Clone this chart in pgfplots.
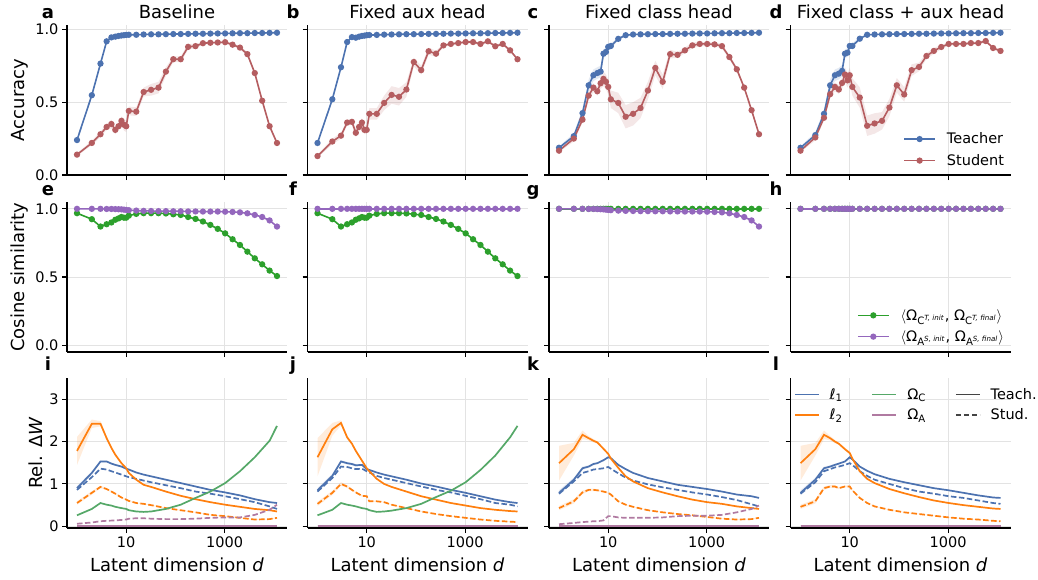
\documentclass[border=0pt]{standalone}
\usepackage{fontspec}
\setmainfont{DejaVu Sans}
\usepackage{pgfplots}
\pgfplotsset{compat=1.18}
\usepackage{pgfplotstable}
\usepgfplotslibrary{fillbetween}

\definecolor{tblue}{HTML}{4C72B0}
\definecolor{tred}{HTML}{B55D60}
\definecolor{cgreen}{HTML}{2CA02C}
\definecolor{cpurple}{HTML}{9467BD}
\definecolor{borange}{HTML}{FF7F0E}
\definecolor{bgreen}{HTML}{55A868}
\definecolor{bmauve}{HTML}{B07AA1}
\definecolor{gridc}{HTML}{E3E3E3}
\definecolor{dgray}{HTML}{444444}

\newcommand{\ticksize}{\fontsize{14.5}{17}\selectfont}
\newcommand{\labsize}{\fontsize{18}{21}\selectfont}
\newcommand{\legsize}{\fontsize{14.5}{17}\selectfont}

% top row: teacher / student accuracy (mean and spread)
\pgfplotstableread{
d T Te S Se
1 0.240 0.010 0.140 0.010
2 0.548 0.010 0.220 0.015
3 0.765 0.010 0.280 0.020
4 0.918 0.005 0.330 0.020
5 0.945 0.005 0.350 0.030
6 0.950 0.005 0.310 0.030
7 0.955 0.005 0.335 0.030
8 0.958 0.005 0.372 0.030
9 0.960 0.005 0.345 0.040
10 0.962 0.004 0.335 0.040
11.3 0.963 0.004 0.440 0.030
16 0.963 0.004 0.435 0.030
22.6 0.965 0.003 0.570 0.030
32 0.966 0.003 0.585 0.040
45.3 0.966 0.003 0.600 0.040
64 0.967 0.003 0.710 0.030
90.5 0.968 0.003 0.795 0.020
128 0.968 0.003 0.795 0.020
181 0.969 0.003 0.880 0.020
256 0.970 0.003 0.885 0.015
362 0.970 0.003 0.905 0.010
512 0.971 0.003 0.908 0.010
724 0.972 0.003 0.910 0.010
1024 0.972 0.003 0.912 0.010
1448 0.973 0.003 0.895 0.010
2048 0.974 0.003 0.875 0.010
2896 0.974 0.003 0.830 0.015
4096 0.975 0.003 0.700 0.015
5793 0.975 0.003 0.510 0.015
8192 0.976 0.003 0.335 0.015
11585 0.977 0.003 0.220 0.010
}\tabA
\pgfplotstableread{
d T Te S Se
1 0.220 0.010 0.130 0.010
2 0.520 0.015 0.230 0.020
3 0.740 0.010 0.270 0.020
4 0.913 0.005 0.360 0.020
5 0.947 0.005 0.365 0.020
6 0.943 0.005 0.290 0.030
7 0.950 0.005 0.330 0.030
8 0.955 0.005 0.360 0.030
9 0.957 0.004 0.310 0.030
10 0.960 0.004 0.310 0.030
11.3 0.961 0.004 0.420 0.040
16 0.962 0.004 0.420 0.040
22.6 0.964 0.003 0.495 0.050
32 0.965 0.003 0.550 0.060
45.3 0.966 0.003 0.537 0.060
64 0.967 0.003 0.587 0.050
90.5 0.967 0.003 0.776 0.030
128 0.968 0.003 0.720 0.030
181 0.969 0.003 0.850 0.025
256 0.969 0.003 0.833 0.020
362 0.970 0.003 0.890 0.010
512 0.971 0.003 0.900 0.010
724 0.971 0.003 0.906 0.010
1024 0.972 0.003 0.913 0.010
1448 0.973 0.003 0.913 0.010
2048 0.973 0.003 0.900 0.010
2896 0.974 0.003 0.918 0.010
4096 0.975 0.003 0.884 0.010
5793 0.975 0.003 0.900 0.010
8192 0.976 0.003 0.856 0.010
11585 0.977 0.003 0.795 0.010
}\tabB
\pgfplotstableread{
d T Te S Se
1 0.187 0.010 0.167 0.010
2 0.267 0.020 0.250 0.020
3 0.425 0.030 0.380 0.020
4 0.616 0.040 0.545 0.030
5 0.685 0.040 0.600 0.030
6 0.700 0.040 0.575 0.030
7 0.710 0.040 0.630 0.040
8 0.833 0.030 0.660 0.050
9 0.845 0.030 0.640 0.050
10 0.880 0.020 0.605 0.050
11.3 0.886 0.020 0.520 0.060
16 0.935 0.010 0.495 0.070
22.6 0.960 0.005 0.400 0.080
32 0.965 0.004 0.420 0.080
45.3 0.966 0.003 0.460 0.070
64 0.967 0.003 0.580 0.060
90.5 0.968 0.003 0.735 0.050
128 0.968 0.003 0.640 0.050
181 0.969 0.003 0.830 0.030
256 0.970 0.003 0.825 0.020
362 0.970 0.003 0.856 0.020
512 0.971 0.003 0.890 0.020
724 0.972 0.003 0.900 0.015
1024 0.972 0.003 0.900 0.015
1448 0.973 0.003 0.897 0.015
2048 0.974 0.003 0.885 0.015
2896 0.974 0.003 0.810 0.015
4096 0.975 0.003 0.726 0.015
5793 0.975 0.003 0.600 0.010
8192 0.976 0.003 0.445 0.010
11585 0.977 0.003 0.280 0.010
}\tabC
\pgfplotstableread{
d T Te S Se
1 0.187 0.010 0.167 0.010
2 0.274 0.020 0.258 0.020
3 0.420 0.030 0.393 0.020
4 0.616 0.040 0.555 0.030
5 0.685 0.040 0.605 0.030
6 0.696 0.040 0.587 0.030
7 0.715 0.040 0.632 0.040
8 0.833 0.030 0.690 0.050
9 0.840 0.030 0.650 0.050
10 0.886 0.020 0.685 0.050
11.3 0.886 0.020 0.605 0.060
16 0.936 0.010 0.532 0.070
22.6 0.963 0.005 0.338 0.070
32 0.965 0.004 0.354 0.070
45.3 0.966 0.003 0.372 0.060
64 0.967 0.003 0.463 0.060
90.5 0.968 0.003 0.616 0.050
128 0.968 0.003 0.553 0.050
181 0.969 0.003 0.720 0.040
256 0.970 0.003 0.742 0.030
362 0.970 0.003 0.817 0.020
512 0.971 0.003 0.852 0.020
724 0.972 0.003 0.879 0.015
1024 0.972 0.003 0.900 0.010
1448 0.973 0.003 0.900 0.010
2048 0.974 0.003 0.900 0.010
2896 0.974 0.003 0.906 0.010
4096 0.975 0.003 0.906 0.010
5793 0.975 0.003 0.920 0.010
8192 0.976 0.003 0.872 0.010
11585 0.977 0.003 0.852 0.010
}\tabD

% middle row: cosine similarities (GE/PE = drifting curves, one = unchanged)
\pgfplotstableread{
d GE PE one
1 0.968 1.000 1
2 0.924 1.000 1
3 0.870 1.000 1
4 0.887 0.999 1
5 0.900 0.999 1
6 0.920 0.998 1
7 0.930 0.997 1
8 0.940 0.996 1
9 0.935 0.994 1
10 0.935 0.992 1
11.3 0.950 0.990 1
16 0.963 0.987 1
22.6 0.968 0.985 1
32 0.968 0.984 1
45.3 0.968 0.983 1
64 0.966 0.983 1
90.5 0.960 0.982 1
128 0.955 0.982 1
181 0.940 0.981 1
256 0.926 0.981 1
362 0.907 0.980 1
512 0.882 0.980 1
724 0.853 0.980 1
1024 0.820 0.979 1
1448 0.777 0.977 1
2048 0.735 0.974 1
2896 0.686 0.967 1
4096 0.637 0.955 1
5793 0.593 0.940 1
8192 0.547 0.915 1
11585 0.507 0.870 1
}\tabMid

% bottom row: relative weight change
\pgfplotstableread{
d l1T e1 l1S l2T e2 l2S es oC oA
1 0.90 0.05 0.86 1.78 0.33 0.55 0.04 0.26 0.06
2 1.26 0.04 1.16 2.42 0.10 0.79 0.04 0.41 0.09
3 1.53 0.02 1.36 2.42 0.06 0.93 0.03 0.55 0.12
4 1.53 0.02 1.34 2.08 0.04 0.88 0.02 0.51 0.13
5 1.48 0.02 1.30 1.85 0.03 0.82 0.02 0.49 0.135
6 1.45 0.02 1.27 1.69 0.03 0.77 0.02 0.46 0.14
8 1.41 0.02 1.22 1.49 0.02 0.68 0.02 0.43 0.15
10 1.36 0.02 1.18 1.37 0.02 0.63 0.02 0.41 0.16
11.3 1.34 0.02 1.16 1.26 0.02 0.60 0.02 0.38 0.18
16 1.27 0.01 1.12 1.10 0.01 0.55 0.01 0.35 0.19
22.6 1.22 0.01 1.08 0.98 0.01 0.53 0.01 0.34 0.19
32 1.18 0.01 1.04 0.93 0.01 0.50 0.01 0.35 0.18
64 1.10 0.01 0.97 0.82 0.01 0.43 0.01 0.41 0.17
128 1.02 0.01 0.90 0.72 0.01 0.38 0.01 0.51 0.17
256 0.94 0.01 0.82 0.64 0.01 0.33 0.01 0.67 0.18
512 0.86 0.01 0.77 0.57 0.01 0.27 0.01 0.82 0.20
1024 0.80 0.01 0.71 0.51 0.01 0.24 0.01 1.02 0.21
2048 0.73 0.01 0.64 0.46 0.01 0.20 0.01 1.30 0.21
4096 0.64 0.01 0.57 0.41 0.01 0.16 0.01 1.63 0.27
8192 0.57 0.01 0.47 0.38 0.01 0.17 0.01 2.02 0.39
11585 0.55 0.01 0.41 0.35 0.01 0.20 0.01 2.37 0.51
}\tabI
\pgfplotstableread{
d l1T e1 l1S l2T e2 l2S es oC oA
1 0.85 0.05 0.82 1.63 0.45 0.53 0.05 0.26 0
2 1.19 0.05 1.14 2.29 0.15 0.79 0.05 0.39 0
3 1.53 0.03 1.41 2.44 0.06 1.00 0.04 0.55 0
4 1.49 0.03 1.40 2.10 0.04 0.94 0.03 0.51 0
5 1.47 0.03 1.37 1.95 0.03 0.86 0.02 0.49 0
6 1.44 0.03 1.35 1.78 0.03 0.80 0.02 0.47 0
8 1.45 0.02 1.36 1.55 0.02 0.72 0.02 0.43 0
10 1.35 0.02 1.30 1.37 0.02 0.71 0.02 0.41 0
11.3 1.33 0.02 1.27 1.30 0.02 0.59 0.02 0.38 0
16 1.27 0.01 1.19 1.12 0.01 0.59 0.01 0.34 0
22.6 1.22 0.01 1.14 1.00 0.01 0.57 0.01 0.35 0
32 1.18 0.01 1.10 0.93 0.01 0.51 0.01 0.37 0
64 1.10 0.01 1.02 0.82 0.01 0.43 0.01 0.43 0
128 1.01 0.01 0.94 0.71 0.01 0.35 0.01 0.53 0
256 0.94 0.01 0.86 0.63 0.01 0.29 0.01 0.69 0
512 0.86 0.01 0.80 0.55 0.01 0.24 0.01 0.84 0
1024 0.79 0.01 0.72 0.49 0.01 0.20 0.01 1.04 0
2048 0.71 0.01 0.64 0.43 0.01 0.16 0.01 1.33 0
4096 0.63 0.01 0.55 0.39 0.01 0.13 0.01 1.67 0
8192 0.57 0.01 0.51 0.36 0.01 0.11 0.01 2.10 0
11585 0.55 0.01 0.47 0.35 0.01 0.10 0.01 2.37 0
}\tabJ
\pgfplotstableread{
d l1T e1 l1S l2T e2 l2S es oC oA
1 0.79 0.06 0.77 1.49 0.41 0.43 0.05 0 0.05
2 1.10 0.05 1.06 1.82 0.15 0.59 0.05 0 0.08
3 1.37 0.04 1.26 2.16 0.10 0.80 0.04 0 0.10
4 1.41 0.03 1.30 2.08 0.05 0.86 0.03 0 0.11
5 1.47 0.03 1.34 2.02 0.04 0.86 0.03 0 0.12
6 1.49 0.02 1.35 1.98 0.03 0.85 0.02 0 0.12
8 1.56 0.02 1.37 1.83 0.03 0.82 0.02 0 0.14
10 1.63 0.02 1.40 1.71 0.03 0.79 0.02 0 0.24
11.3 1.61 0.02 1.36 1.60 0.02 0.75 0.02 0 0.24
16 1.45 0.01 1.25 1.38 0.02 0.59 0.01 0 0.21
22.6 1.35 0.01 1.15 1.18 0.01 0.51 0.01 0 0.20
32 1.26 0.01 1.08 1.06 0.01 0.46 0.01 0 0.20
64 1.14 0.01 0.99 0.90 0.01 0.38 0.01 0 0.20
128 1.06 0.01 0.92 0.80 0.01 0.33 0.01 0 0.21
256 0.98 0.01 0.86 0.71 0.01 0.29 0.01 0 0.24
512 0.93 0.01 0.80 0.63 0.01 0.26 0.01 0 0.25
1024 0.88 0.01 0.75 0.57 0.01 0.22 0.01 0 0.25
2048 0.82 0.01 0.69 0.53 0.01 0.18 0.01 0 0.27
4096 0.75 0.01 0.62 0.47 0.01 0.16 0.01 0 0.33
8192 0.71 0.01 0.52 0.43 0.01 0.17 0.01 0 0.41
11585 0.67 0.01 0.47 0.41 0.01 0.20 0.01 0 0.49
}\tabK
\pgfplotstableread{
d l1T e1 l1S l2T e2 l2S es oC oA
1 0.79 0.06 0.77 1.49 0.41 0.46 0.05 0 0
2 1.10 0.05 1.04 1.82 0.15 0.59 0.05 0 0
3 1.37 0.04 1.30 2.16 0.10 0.90 0.04 0 0
4 1.41 0.03 1.35 2.08 0.05 0.94 0.03 0 0
5 1.45 0.03 1.39 2.00 0.04 0.94 0.03 0 0
6 1.48 0.02 1.41 1.95 0.03 0.90 0.02 0 0
8 1.53 0.02 1.45 1.82 0.03 0.94 0.02 0 0
10 1.63 0.02 1.49 1.73 0.03 0.94 0.02 0 0
11.3 1.58 0.02 1.45 1.60 0.02 0.85 0.02 0 0
16 1.41 0.01 1.30 1.30 0.02 0.67 0.01 0 0
22.6 1.31 0.01 1.19 1.12 0.01 0.55 0.01 0 0
32 1.23 0.01 1.10 1.02 0.01 0.47 0.01 0 0
64 1.12 0.01 1.00 0.88 0.01 0.39 0.01 0 0
128 1.04 0.01 0.90 0.78 0.01 0.33 0.01 0 0
256 0.97 0.01 0.82 0.69 0.01 0.29 0.01 0 0
512 0.90 0.01 0.77 0.61 0.01 0.25 0.01 0 0
1024 0.85 0.01 0.71 0.55 0.01 0.21 0.01 0 0
2048 0.79 0.01 0.67 0.50 0.01 0.18 0.01 0 0
4096 0.73 0.01 0.61 0.46 0.01 0.16 0.01 0 0
8192 0.68 0.01 0.55 0.42 0.01 0.13 0.01 0 0
11585 0.67 0.01 0.53 0.41 0.01 0.12 0.01 0 0
}\tabL

\pgfplotsset{
  every axis/.append style={
    width=220pt, height=150pt, scale only axis,
    xmode=log, xmin=0.626, xmax=18500,
    xtick={10,1000}, xticklabels={10,1000},
    axis x line*=bottom, axis y line*=left,
    axis line style={line width=1.1pt},
    tick align=outside, major tick length=5pt,
    tick style={black, line width=1.1pt},
    grid=major, major grid style={line width=1pt, gridc},
    tick label style={font=\ticksize},
    label style={font=\labsize},
    xlabel style={yshift=-3pt},
    title style={font=\labsize, at={(0.5,1)}, anchor=base, yshift=1pt},
    clip=false,
  },
  myrowtop/.style={ymin=0, ymax=1.03, ytick={0,0.5,1}, yticklabels={0.0,0.5,1.0}, xticklabels={,,}},
  myrowmid/.style={ymin=-0.05, ymax=1.05, ytick={0,0.5,1}, yticklabels={0.0,0.5,1.0}, xticklabels={,,}},
  myrowbot/.style={ymin=-0.04, ymax=3.5, ytick={0,1,2,3}, yticklabels={0,1,2,3}, xlabel={Latent dimension \textit{d}}},
  mynolab/.style={yticklabels={,,,,}},
  myleg/.style={legend cell align=left, legend style={draw=none, fill=none, font=\legsize,
    inner sep=1pt, row sep=5pt, /tikz/every odd column/.append style={column sep=9pt}}},
  mymkimg/.style={legend image code/.code={\draw[mark repeat=2,mark phase=2,##1] plot coordinates {(0pt,0pt) (15.5pt,0pt) (31pt,0pt)};}},
  mylnimg/.style={legend image code/.code={\draw[##1] (0pt,0pt) -- (24pt,0pt);}},
}
\tikzset{
  myletter/.style={font=\labsize\bfseries, anchor=base},
  myteach/.style={color=tblue, line width=1.6pt, mark=*, mark size=2.3pt},
  mystud/.style={color=tred, line width=1.6pt, mark=*, mark size=2.3pt},
  mycosg/.style={color=cgreen, line width=1.6pt, mark=*, mark size=2.3pt},
  mycosp/.style={color=cpurple, line width=1.6pt, mark=*, mark size=2.3pt},
  myln/.style={line width=1.7pt},
  mydsh/.style={line width=1.7pt, dash pattern=on 5.5pt off 2.5pt},
}

\newcommand{\band}[5]{%
  \addplot[draw=none, forget plot, name path=U#5] table[x=d, y expr=\thisrow{#2}+\thisrow{#3}] {#1};
  \addplot[draw=none, forget plot, name path=L#5] table[x=d, y expr=\thisrow{#2}-\thisrow{#3}] {#1};
  \addplot[fill=#4, fill opacity=0.15, draw=none, forget plot] fill between[of=U#5 and L#5];
}
\newcommand{\topplots}[2]{%
  \band{#1}{T}{Te}{tblue}{#2t}
  \band{#1}{S}{Se}{tred}{#2s}
  \addplot[myteach] table[x=d, y=T] {#1};
  \addplot[mystud] table[x=d, y=S] {#1};
}
\newcommand{\bottomplots}[2]{%
  \band{#1}{l2T}{e2}{borange}{#2a}
  \band{#1}{l1T}{e1}{tblue}{#2b}
  \band{#1}{l2S}{es}{borange}{#2c}
  \addplot[forget plot, myln, tblue] table[x=d, y=l1T] {#1};
  \addplot[forget plot, mydsh, tblue] table[x=d, y=l1S] {#1};
  \addplot[forget plot, myln, borange] table[x=d, y=l2T] {#1};
  \addplot[forget plot, mydsh, borange] table[x=d, y=l2S] {#1};
  \addplot[forget plot, myln, bgreen] table[x=d, y=oC] {#1};
  \addplot[forget plot, mydsh, bgreen] coordinates {(1,0) (11585,0)};
  \addplot[forget plot, mydsh, bmauve] table[x=d, y=oA] {#1};
  \addplot[forget plot, myln, bmauve] coordinates {(1,0) (11585,0)};
}

\begin{document}
\begin{tikzpicture}

% ---------- row 1: accuracy ----------
\begin{axis}[myrowtop, name=A, at={(67pt,-175pt)}, anchor=south west,
  ylabel={Accuracy}, title={Baseline}]
  \topplots{\tabA}{a}
\end{axis}

\begin{axis}[myrowtop, mynolab, name=B, at={(307.5pt,-175pt)}, anchor=south west,
  title={Fixed aux head}]
  \topplots{\tabB}{b}
\end{axis}

\begin{axis}[myrowtop, mynolab, name=C, at={(549pt,-175pt)}, anchor=south west,
  title={Fixed class head}]
  \topplots{\tabC}{c}
\end{axis}

\begin{axis}[myrowtop, mynolab, name=D, at={(790.5pt,-175pt)}, anchor=south west,
  title={Fixed class + aux head}, myleg, mymkimg,
  legend style={at={(0.985,0.033)}, anchor=south east}]
  \band{\tabD}{T}{Te}{tblue}{dt}
  \band{\tabD}{S}{Se}{tred}{ds}
  \addplot[myteach] table[x=d, y=T] {\tabD};
  \addlegendentry{Teacher}
  \addplot[mystud] table[x=d, y=S] {\tabD};
  \addlegendentry{Student}
\end{axis}

% ---------- row 2: cosine similarity ----------
\begin{axis}[myrowmid, name=E, at={(67pt,-352pt)}, anchor=south west,
  ylabel={Cosine similarity}]
  \addplot[mycosg] table[x=d, y=GE] {\tabMid};
  \addplot[mycosp] table[x=d, y=PE] {\tabMid};
\end{axis}

\begin{axis}[myrowmid, mynolab, name=F, at={(307.5pt,-352pt)}, anchor=south west]
  \addplot[mycosg] table[x=d, y=GE] {\tabMid};
  \addplot[mycosp] table[x=d, y=one] {\tabMid};
\end{axis}

\begin{axis}[myrowmid, mynolab, name=G, at={(549pt,-352pt)}, anchor=south west]
  \addplot[mycosg] table[x=d, y=one] {\tabMid};
  \addplot[mycosp] table[x=d, y=PE] {\tabMid};
\end{axis}

\begin{axis}[myrowmid, mynolab, name=H, at={(790.5pt,-352pt)}, anchor=south west,
  myleg, mymkimg, legend style={at={(0.985,0.04)}, anchor=south east}]
  \addplot[mycosg] table[x=d, y=one] {\tabMid};
  \addlegendentry{$\langle$Ω\textsubscript{C\textsuperscript{\textit{T, init}}}, Ω\textsubscript{C\textsuperscript{\textit{T, final}}}$\rangle$}
  \addplot[mycosp] table[x=d, y=one] {\tabMid};
  \addlegendentry{$\langle$Ω\textsubscript{A\textsuperscript{\textit{S, init}}}, Ω\textsubscript{A\textsuperscript{\textit{S, final}}}$\rangle$}
\end{axis}

% ---------- row 3: relative weight change ----------
\begin{axis}[myrowbot, name=I, at={(67pt,-528pt)}, anchor=south west,
  ylabel={Rel. Δ\textit{W}}]
  \bottomplots{\tabI}{i}
\end{axis}

\begin{axis}[myrowbot, mynolab, name=J, at={(307.5pt,-528pt)}, anchor=south west]
  \bottomplots{\tabJ}{j}
\end{axis}

\begin{axis}[myrowbot, mynolab, name=K, at={(549pt,-528pt)}, anchor=south west]
  \bottomplots{\tabK}{k}
\end{axis}

\begin{axis}[myrowbot, mynolab, name=L, at={(790.5pt,-528pt)}, anchor=south west,
  myleg, mylnimg, legend columns=3,
  legend style={at={(0.01,0.953)}, anchor=north west, row sep=4pt,
    /tikz/every odd column/.append style={column sep=8pt},
    /tikz/every even column/.append style={column sep=27pt}}]
  \bottomplots{\tabL}{l}
  \addlegendimage{myln, tblue}\addlegendentry{ℓ\textsubscript{1}}
  \addlegendimage{myln, bgreen}\addlegendentry{Ω\textsubscript{C}}
  \addlegendimage{myln, dgray}\addlegendentry{Teach.}
  \addlegendimage{myln, borange}\addlegendentry{ℓ\textsubscript{2}}
  \addlegendimage{myln, bmauve}\addlegendentry{Ω\textsubscript{A}}
  \addlegendimage{mydsh, dgray}\addlegendentry{Stud.}
\end{axis}

% panel letters
\node[myletter] at (48pt,-18pt) {a};
\node[myletter] at (293pt,-18pt) {b};
\node[myletter] at (533pt,-18pt) {c};
\node[myletter] at (776pt,-18pt) {d};
\node[myletter] at (48pt,-195pt) {e};
\node[myletter] at (293pt,-195pt) {f};
\node[myletter] at (533pt,-195pt) {g};
\node[myletter] at (776pt,-195pt) {h};
\node[myletter] at (48pt,-370pt) {i};
\node[myletter] at (293pt,-370pt) {j};
\node[myletter] at (533pt,-370pt) {k};
\node[myletter] at (776pt,-370pt) {l};

\pgfresetboundingbox
\path[use as bounding box] (0pt,0pt) rectangle (1038pt,-579pt);
\end{tikzpicture}
\end{document}
